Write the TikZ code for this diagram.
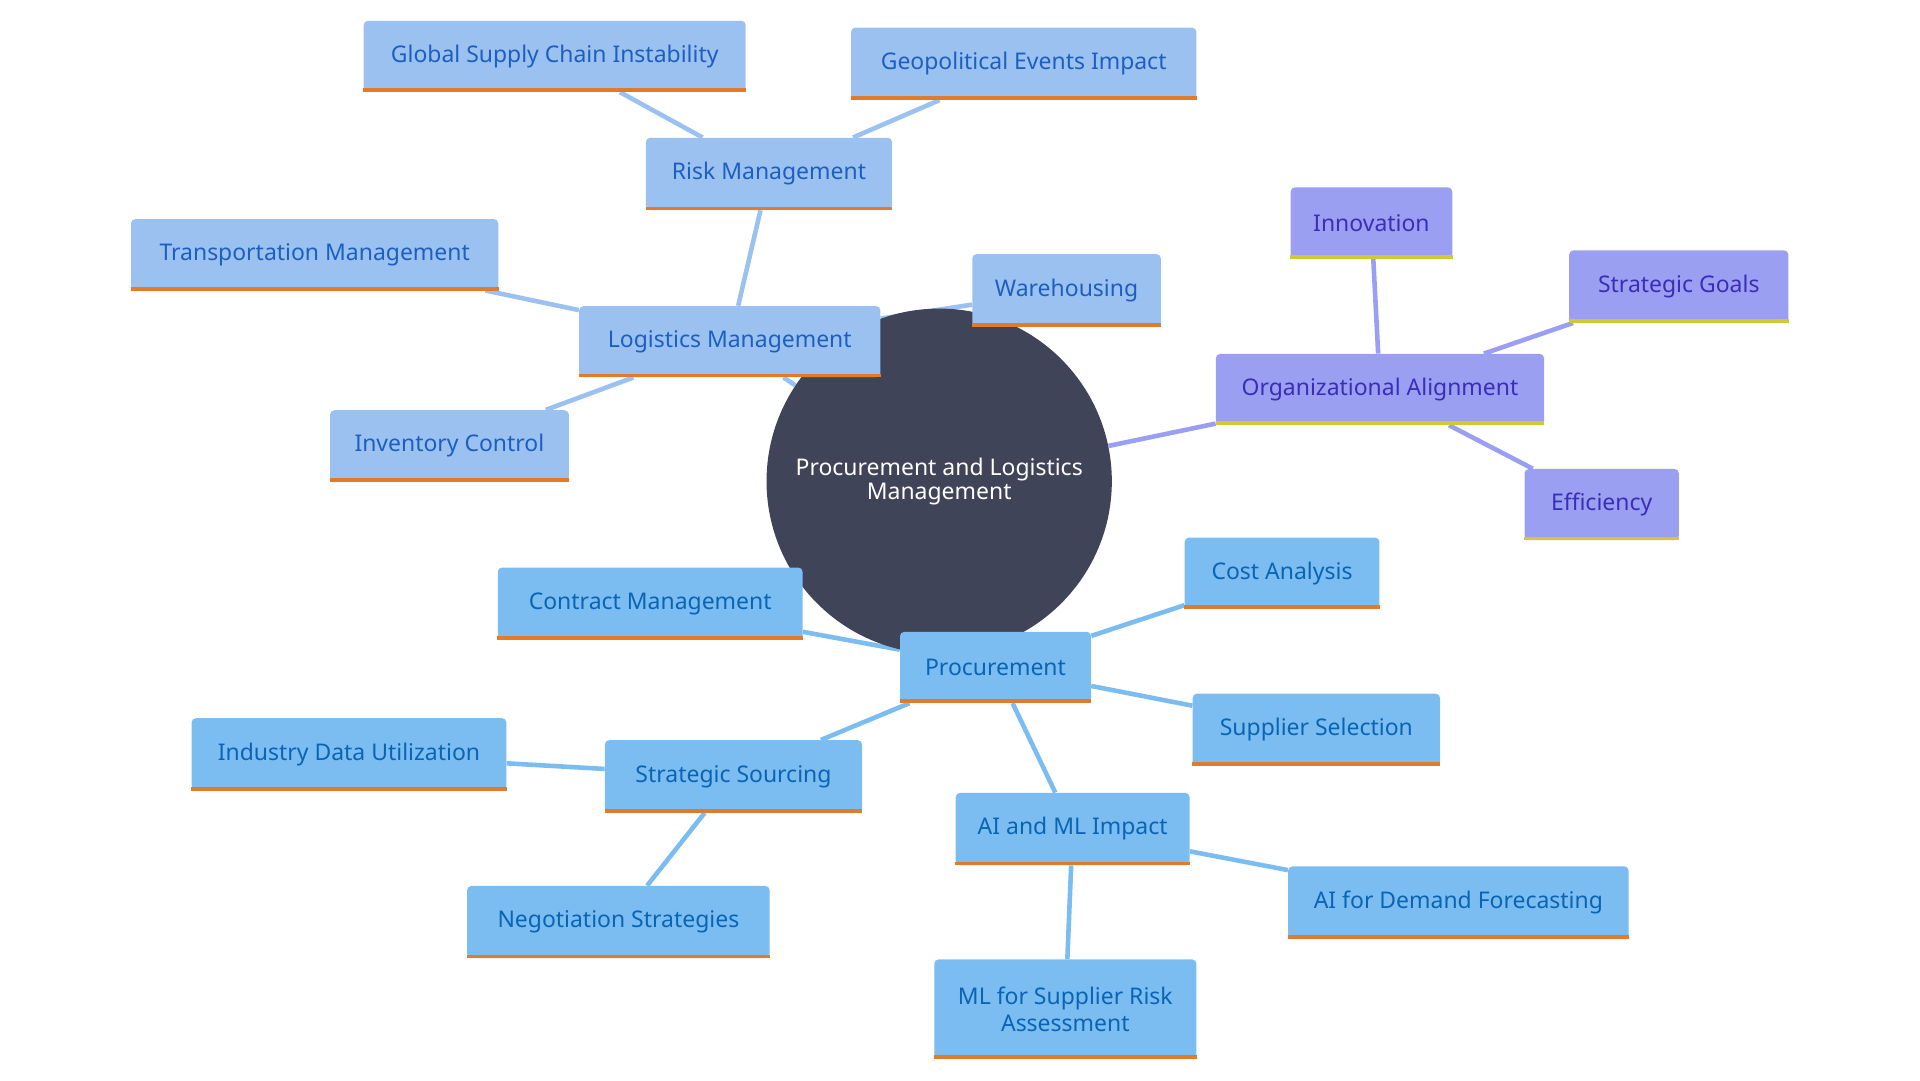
\documentclass[tikz,border=0pt]{standalone}
\usepackage{fontspec}
\setmainfont{Noto Sans}
\usetikzlibrary{backgrounds}
\definecolor{lgf}{HTML}{9AC1F0}\definecolor{lgt}{HTML}{1D5FC0}
\definecolor{prf}{HTML}{7BBDF0}\definecolor{prt}{HTML}{0A64B4}
\definecolor{orf}{HTML}{9B9FF2}\definecolor{ort}{HTML}{3A2DB8}
\definecolor{orb}{HTML}{E07B2C}\definecolor{yeb}{HTML}{CFCB2E}
\definecolor{ctr}{HTML}{3F4459}
\begin{document}
\begin{tikzpicture}[x=0.03cm,y=-0.03cm,
  box/.style={rounded corners=3pt,inner sep=0pt,font=\fontsize{16}{19}\selectfont,align=center},
  lg/.style={box,fill=lgf,text=lgt},
  pr/.style={box,fill=prf,text=prt},
  og/.style={box,fill=orf,text=ort},
  w/.style 2 args={minimum width=#1*0.03cm,minimum height=#2*0.03cm},
  e/.style={line width=3.2pt}]
\path[use as bounding box] (0,0) rectangle (1568,882);
\node[circle,fill=ctr,minimum size=282*0.03cm,text=white,font=\fontsize{16}{17}\selectfont,align=center] (c) at (767,393) {Procurement and Logistics\\Management};
\node[lg,w={201}{59}] (rm) at (628,142) {Risk Management};
\node[lg,w={312}{58}] (gs) at (453,46) {Global Supply Chain Instability};
\node[lg,w={282}{59}] (ge) at (836,52) {Geopolitical Events Impact};
\node[lg,w={246}{58}] (lm) at (596,279) {Logistics Management};
\node[lg,w={300}{58}] (tm) at (257,208) {Transportation Management};
\node[lg,w={154}{59}] (wh) at (871,237) {Warehousing};
\node[lg,w={195}{58}] (ic) at (367,364) {Inventory Control};
\node[og,w={268}{58}] (oa) at (1127,318) {Organizational Alignment};
\node[og,w={132}{58}] (in) at (1120,182) {Innovation};
\node[og,w={179}{59}] (sg) at (1371,234) {Strategic Goals};
\node[og,w={126}{58}] (ef) at (1308,412) {Efficiency};
\node[pr,w={156}{58}] (pc) at (813,545) {Procurement};
\node[pr,w={249}{59}] (cm) at (531,493) {Contract Management};
\node[pr,w={159}{58}] (ca) at (1047,468) {Cost Analysis};
\node[pr,w={202}{59}] (ss) at (1075,596) {Supplier Selection};
\node[pr,w={210}{59}] (so) at (599,634) {Strategic Sourcing};
\node[pr,w={257}{59}] (id) at (285,616) {Industry Data Utilization};
\node[pr,w={247}{59}] (ns) at (505,753) {Negotiation Strategies};
\node[pr,w={191}{59}] (ai) at (876,677) {AI and ML Impact};
\node[pr,w={278}{59}] (af) at (1191,737) {AI for Demand Forecasting};
\node[pr,w={214}{81}] (ml) at (870,824) {ML for Supplier Risk\\Assessment};
\foreach \n in {rm,gs,ge,lm,tm,wh,ic,pc,cm,ca,ss,so,id,ns,ai,af,ml}
  \draw[orb,line width=2.6pt] ([yshift=1.3pt]\n.south west)--([yshift=1.3pt]\n.south east);
\foreach \n in {oa,in,sg,ef}
  \draw[yeb,line width=2.6pt] ([yshift=1.3pt]\n.south west)--([yshift=1.3pt]\n.south east);
\begin{scope}[on background layer]
\draw[e,lgf] (c)--(lm) (lm)--(rm) (rm)--(gs) (rm)--(ge) (lm)--(tm) (lm)--(wh) (lm)--(ic);
\draw[e,orf] (c)--(oa) (oa)--(in) (oa)--(sg) (oa)--(ef);
\draw[e,prf] (c)--(pc) (pc)--(cm) (pc)--(ca) (pc)--(ss) (pc)--(so) (so)--(id) (so)--(ns) (pc)--(ai) (ai)--(af) (ai)--(ml);
\end{scope}
\end{tikzpicture}
\end{document}
